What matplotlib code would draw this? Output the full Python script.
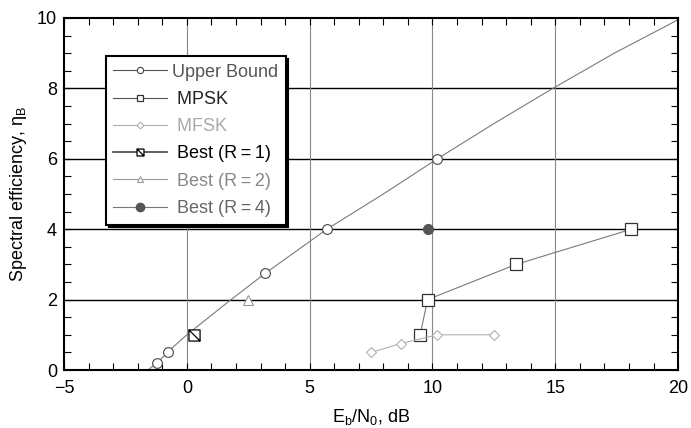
import matplotlib
matplotlib.use("Agg")
import matplotlib.pyplot as plt
from matplotlib.path import Path
from matplotlib.lines import Line2D
import numpy as np

plt.rcParams['font.family'] = ['Liberation Sans', 'DejaVu Sans']
plt.rcParams['mathtext.fontset'] = 'custom'
plt.rcParams['mathtext.rm'] = 'Liberation Sans'
plt.rcParams['mathtext.it'] = 'Liberation Sans'

# Upper bound curve
ub_line_x = [-1.59, -1.2, -0.8, 0.0, 1.8, 3.2, 5.7, 8.0, 10.2, 12.5, 14.9, 17.4, 20.0]
ub_line_y = [0.0, 0.2, 0.5, 1.0, 2.0, 2.75, 4.0, 5.0, 6.0, 7.0, 8.0, 9.0, 9.95]
ub_mark_x = [-1.2, -0.75, 3.2, 5.7, 10.2]
ub_mark_y = [0.2, 0.5, 2.75, 4.0, 6.0]

mpsk_x = [9.5, 9.8, 13.4, 18.1]
mpsk_y = [1, 2, 3, 4]

mfsk_x = [7.5, 8.7, 10.2, 12.5]
mfsk_y = [0.5, 0.75, 1, 1]

best1_x = [0.3]
best1_y = [1]
best2_x = [2.5]
best2_y = [2]
best4_x = [9.8]
best4_y = [4]

labels = ['Upper Bound', ' MPSK', ' MFSK',
          ' Best (R\u2009=\u20091)', ' Best (R\u2009=\u20092)', ' Best (R\u2009=\u20094)']

c_ub = '#7a7a7a'
c_mfsk = '#b0b0b0'
c_b2 = '#999999'
c_b4 = '#555555'

# square with diagonal marker
verts = [(-1, -1), (1, -1), (1, 1), (-1, 1), (-1, -1), (-1, 1), (1, -1)]
codes = [Path.MOVETO, Path.LINETO, Path.LINETO, Path.LINETO, Path.CLOSEPOLY, Path.MOVETO, Path.LINETO]
sqdiag = Path(verts, codes)

fig = plt.figure(figsize=(6.91, 4.28), dpi=100)
ax = fig.add_axes([0.0926, 0.1355, 0.8888, 0.8225])

for yv in [2, 4, 6, 8]:
    ax.axhline(yv, color='black', lw=1.0, zorder=1)
for xv in [0, 5, 10, 15]:
    ax.axvline(xv, color='#888888', lw=0.8, zorder=1)

ax.plot(ub_line_x, ub_line_y, color=c_ub, lw=0.8, zorder=2)
ax.plot(ub_mark_x, ub_mark_y, ls='none', marker='o', ms=7, mfc='white', mec='#444444', mew=0.8, zorder=3)
ax.plot(mpsk_x, mpsk_y, color=c_ub, lw=0.8, marker='s', ms=8, mfc='white', mec='#333333', mew=0.9, zorder=3)
ax.plot(mfsk_x, mfsk_y, color=c_mfsk, lw=0.8, marker='D', ms=5, mfc='white', mec=c_mfsk, mew=0.8, zorder=3)
ax.plot(best1_x, best1_y, ls='none', marker=sqdiag, ms=8, mfc='white', mec='black', mew=0.9, zorder=4)
ax.plot(best2_x, best2_y, ls='none', marker='^', ms=7, mfc='white', mec=c_b2, mew=0.8, zorder=4)
ax.plot(best4_x, best4_y, ls='none', marker='o', ms=7, mfc=c_b4, mec=c_b4, zorder=4)

ax.set_xlim(-5, 20)
ax.set_ylim(0, 10)
ax.set_xticks([-5, 0, 5, 10, 15, 20])
ax.set_xticklabels(['\u22125', '0', '5', '10', '15', '20'])
ax.set_yticks([0, 2, 4, 6, 8, 10])
ax.set_xticks(np.arange(-5, 21, 1), minor=True)
ax.set_yticks(np.arange(0, 10.01, 0.5), minor=True)
ax.tick_params(which='both', direction='in', top=True, right=True, length=5, width=0.8, labelsize=13)
ax.tick_params(axis='x', pad=7.5)
ax.tick_params(axis='y', pad=5)
for s in ax.spines.values():
    s.set_linewidth(1.5)

ax.set_xlabel(r'E$_{\mathrm{b}}$/N$_{0}$, dB', fontsize=13, labelpad=7)
ax.set_ylabel(r'Spectral efficiency, $\eta_{\mathrm{B}}$', fontsize=13, labelpad=6)

handles = [
    Line2D([], [], color='#555555', lw=0.8, marker='o', ms=4.5, mfc='white', mec='#444444', mew=0.8),
    Line2D([], [], color='#555555', lw=0.8, marker='s', ms=5, mfc='white', mec='#333333', mew=0.9),
    Line2D([], [], color=c_mfsk, lw=0.8, marker='D', ms=3.5, mfc='white', mec=c_mfsk, mew=0.8),
    Line2D([], [], color='#444444', lw=1.2, marker=sqdiag, ms=5, mfc='white', mec='black', mew=0.9),
    Line2D([], [], color=c_b2, lw=0.8, marker='^', ms=5, mfc='white', mec=c_b2, mew=0.8),
    Line2D([], [], color='#777777', lw=0.8, marker='o', ms=6, mfc=c_b4, mec=c_b4),
]
leg = ax.legend(handles, labels, loc='upper left', bbox_to_anchor=(0.068, 0.892), borderaxespad=0,
                fontsize=13, handlelength=3.0, handletextpad=0.25, labelspacing=0.57, borderpad=0.42,
                fancybox=False, framealpha=1, edgecolor='black',
                shadow={'color': 'black', 'alpha': 1})
leg.get_frame().set_linewidth(1.5)
leg.set_zorder(10)
text_colors = ['#555555', '#222222', '#aaaaaa', '#000000', '#888888', '#666666']
for t, c in zip(leg.get_texts(), text_colors):
    t.set_color(c)

fig.savefig('out.png', dpi=100)
